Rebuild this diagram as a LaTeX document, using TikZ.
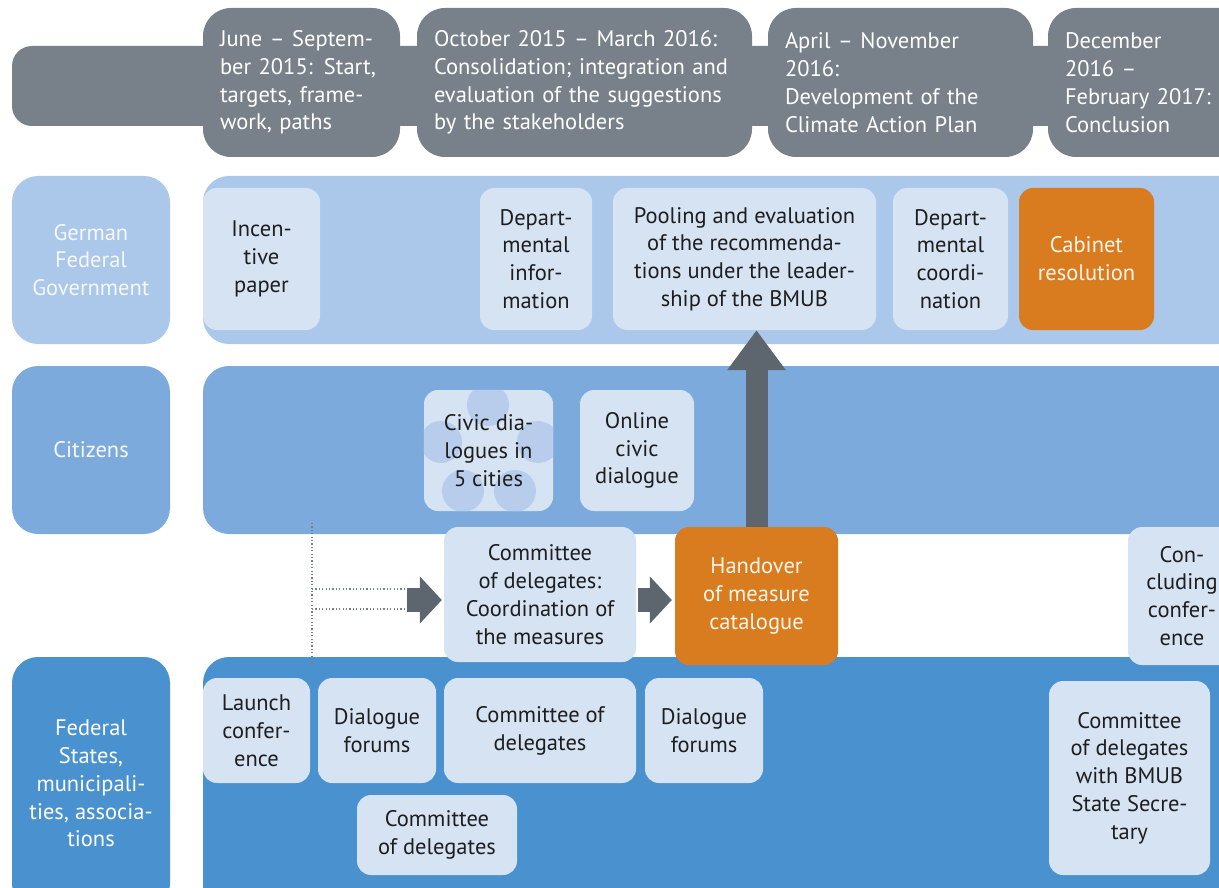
\documentclass[tikz,border=0pt]{standalone}
\usepackage{fontspec}
\setmainfont{PT Sans}
\usetikzlibrary{arrows.meta}

\definecolor{phasegray}{HTML}{788189}
\definecolor{arrowgray}{HTML}{5D666E}
\definecolor{govblue}{HTML}{ABC7E9}
\definecolor{citblue}{HTML}{7DAADC}
\definecolor{stateblue}{HTML}{4A91D0}
\definecolor{boxblue}{HTML}{D6E3F3}
\definecolor{dotblue}{HTML}{B7CDEB}
\definecolor{hotorange}{HTML}{D97B1F}
\definecolor{ink}{HTML}{1E1E1E}

\newcommand{\boxfont}{\fontsize{22.5}{27.8}\selectfont}

\tikzset{
  phase/.style={fill=phasegray,rounded corners=28pt,text=white,align=left,inner xsep=17pt,minimum height=149pt,font=\boxfont},
  lanelabel/.style={rounded corners=26pt,minimum width=158pt,align=center,font=\boxfont},
  item/.style={fill=boxblue,rounded corners=14pt,align=center,inner sep=2pt,text=ink,font=\boxfont},
  hot/.style={item,fill=hotorange,text=orange!8},
  fat/.style={draw=arrowgray,line width=24pt,-{Triangle[length=22pt,width=46pt]}},
  guide/.style={draw=phasegray,line width=1.2pt,dash pattern=on 1.2pt off 2.2pt}
}

\begin{document}
\begin{tikzpicture}[x=1pt,y=-1pt]
      \clip (0,0) rectangle (1219,888);
      % Linea de tiempo
      \fill[phasegray,rounded corners=20pt] (12,46) rectangle (1260,126);
      \node[phase,text width=163pt] (p1) at (301.5,82.5) {June – Septem-\\ber 2015: Start,\\targets, frame-\\work, paths};
      \node[phase,text width=301pt] (p2) at (584.5,82.5) {October 2015 – March 2016:\\Consolidation; integration and\\evaluation of the suggestions\\by the stakeholders};
      \node[phase,text width=231pt] (p3) at (900.5,82.5) {April – November\\2016:\\Development of the\\Climate Action Plan};
      \node[phase,text width=168pt] (p4) at (1149,82.5) {December\\2016 –\\February 2017:\\Conclusion};
      % Carriles
      \node[lanelabel,fill=govblue,text=white!88!govblue,minimum height=168pt] (lgov) at (91,260) {German\\Federal\\Government};
      \node[lanelabel,fill=citblue,text=white!92!citblue,minimum height=168pt] (lcit) at (91,450) {Citizens};
      \node[lanelabel,fill=stateblue,text=white,minimum height=253pt] (lsta) at (91,783.5) {Federal\\States,\\municipali-\\ties, associa-\\tions};
      \fill[govblue,rounded corners=26pt] (203,176) rectangle (1260,344);
      \fill[citblue,rounded corners=26pt] (203,366) rectangle (1260,534);
      \fill[stateblue,rounded corners=26pt] (203,657) rectangle (1260,920);
      % Bundesregierung
      \node[item,minimum width=117pt,minimum height=142pt] (inc) at (261.5,259) {Incen-\\tive\\paper};
      \node[item,minimum width=112pt,minimum height=142pt] (dinfo) at (536,259) {Depart-\\mental\\infor-\\mation};
      \node[item,minimum width=263pt,minimum height=142pt] (pool) at (744.5,259) {Pooling and evaluation\\of the recommenda-\\tions under the leader-\\ship of the BMUB};
      \node[item,minimum width=115pt,minimum height=142pt] (dcoord) at (950.5,259) {Depart-\\mental\\coordi-\\nation};
      \node[hot,minimum width=135pt,minimum height=142pt] (cab) at (1086.5,259) {Cabinet\\resolution};
      % Buerger
      \node[item,minimum width=129pt,minimum height=121pt] (civic) at (488.5,450.5) {};
      \begin{scope}
        \clip[rounded corners=14pt] (civic.north west) rectangle (civic.south east);
        \foreach \cx/\cy in {488/405,441/442,538/442,463/491,515/491}
          \fill[dotblue] (\cx,\cy) circle (21pt);
      \end{scope}
      \node[align=center,text=ink,font=\boxfont] (civictext) at (civic) {Civic dia-\\logues in\\5 cities};
      \node[item,minimum width=114pt,minimum height=121pt] (online) at (637,450.5) {Online\\civic\\dialogue};
      % Zwischenreihe
      \node[item,minimum width=192pt,minimum height=135pt] (cmte) at (540,594.5) {Committee\\of delegates:\\Coordination of\\the measures};
      \node[hot,minimum width=163pt,minimum height=138pt] (hand) at (756.5,596) {Handover\\of measure\\catalogue};
      \node[item,minimum width=108pt,minimum height=138pt] (concl) at (1182,596) {Con-\\cluding\\confer-\\ence};
      % Laender, Kommunen, Verbaende
      \node[item,minimum width=107pt,minimum height=105pt] (launch) at (256.5,730.5) {Launch\\confer-\\ence};
      \node[item,minimum width=118pt,minimum height=105pt] (df1) at (377,730.5) {Dialogue\\forums};
      \node[item,minimum width=192pt,minimum height=105pt] (cd1) at (540,730.5) {Committee of\\delegates};
      \node[item,minimum width=118pt,minimum height=105pt] (df2) at (704,730.5) {Dialogue\\forums};
      \node[item,minimum width=160pt,minimum height=80pt] (cd2) at (437,835) {Committee\\of delegates};
      \node[item,minimum width=161pt,minimum height=194pt] (cdss) at (1129.5,778) {Committee\\of delegates\\with BMUB\\State Secre-\\tary};
      % Lineas punteadas
      \coordinate (dtop) at (312,523);
      \coordinate (dbot) at (312,668);
      \coordinate (d1) at (312,589);
      \coordinate (d2) at (312,609);
      \coordinate (in1) at (407,600);
      \draw[guide] (dtop) -- (dbot);
      \draw[guide] (d1) -- (d1 -| in1);
      \draw[guide] (d2) -- (d2 -| in1);
      % Flechas
      \draw[fat,shorten >=2pt] (in1) -- (in1 -| cmte.west);
      \draw[fat,shorten <=2pt,shorten >=3pt] (cmte.east |- in1) -- (hand.west |- in1);
      \draw[fat,line width=22pt,-{Triangle[length=40pt,width=56pt]}] (hand.north) -- (hand.north |- pool.south);
\end{tikzpicture}
\end{document}
